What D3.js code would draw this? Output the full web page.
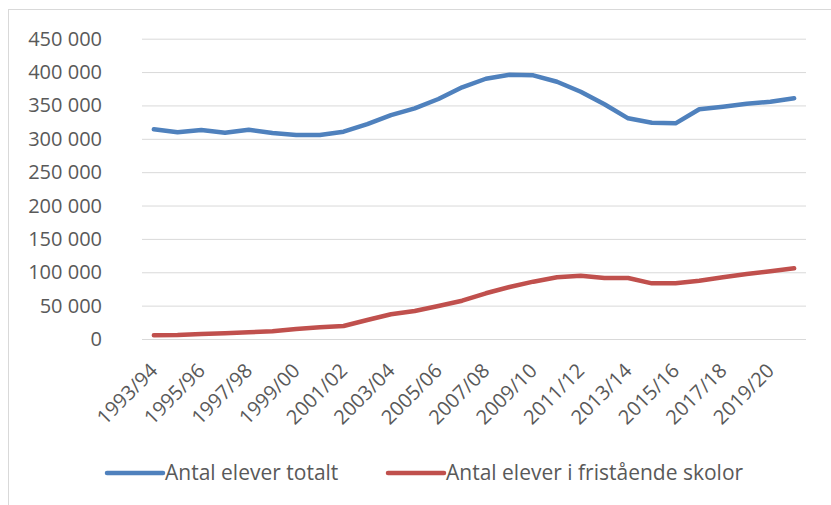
<!DOCTYPE html>
<meta charset="utf-8">
<html>
<style>
body { margin: 0; background: #fff; }
svg { display: block; }
.grid line { stroke: #d9d9d9; stroke-width: 1px; }
.grid path { display: none; }
text { font-family: "Open Sans", sans-serif; fill: #595959; }
</style>
<body>
<script src="https://cdnjs.cloudflare.com/ajax/libs/d3/7.8.5/d3.min.js"></script>
<script>
	var years = ["1993/94","1994/95","1995/96","1996/97","1997/98","1998/99","1999/00","2000/01",
		"2001/02","2002/03","2003/04","2004/05","2005/06","2006/07","2007/08","2008/09","2009/10",
		"2010/11","2011/12","2012/13","2013/14","2014/15","2015/16","2016/17","2017/18","2018/19",
		"2019/20","2020/21"];

	var totalt = [314200, 309700, 313100, 309100, 313600, 308600, 305600, 305600, 310600, 322100,
		335600, 345700, 359600, 377100, 390000, 396000, 395100, 385500, 370500, 351700,
		330700, 324100, 323200, 344200, 348100, 352600, 355600, 360700];

	var fristaende = [5500, 6000, 7500, 8500, 10000, 11500, 15000, 17500, 19500, 28500,
		37000, 42000, 49400, 57400, 68500, 77900, 85900, 92400, 94900, 91400,
		91400, 83400, 83400, 87400, 92400, 97400, 101400, 106000];

	var yTicks = [0, 50000, 100000, 150000, 200000, 250000, 300000, 350000, 400000, 450000];

	var seriesNames = ["Antal elever totalt", "Antal elever i fristående skolor"];
	var colors = ["#4f81bd", "#c0504d"];

	var width = 831;
	var height = 505;

	var svg = d3.select("body")
		.append("svg")
		.attr("width", width)
		.attr("height", height);

	// chart frame (only left and top edges are visible)
	svg.append("rect")
		.attr("x", 8.5)
		.attr("y", 9.5)
		.attr("width", 1000)
		.attr("height", 1000)
		.attr("fill", "none")
		.attr("stroke", "#d9d9d9");

	var x = d3.scaleBand()
		.domain(years)
		.range([142, 806]);

	var y = d3.scaleLinear()
		.domain([0, 450000])
		.range([339, 38.7]);

	var fmt = function(d) { return d3.format(",")(d).replace(/,/g, " "); };

	svg.append("g")
		.attr("class", "grid")
		.attr("transform", "translate(142,0)")
		.call(d3.axisLeft(y).tickValues(yTicks).tickSize(-664).tickFormat(""));

	svg.append("g")
		.selectAll("text")
		.data(yTicks)
		.enter()
		.append("text")
		.attr("x", 102)
		.attr("y", d => y(d))
		.attr("dy", "0.35em")
		.attr("text-anchor", "end")
		.style("font-size", "20px")
		.text(fmt);

	// category labels every second year, rotated
	svg.append("g")
		.selectAll("text")
		.data(years.filter((d, i) => i % 2 == 0))
		.enter()
		.append("text")
		.attr("transform", d => "translate(" + (x(d) + x.bandwidth() / 2 + 5) + ",372) rotate(-45)")
		.attr("text-anchor", "end")
		.style("font-size", "20px")
		.text(d => d);

	var line = d3.line()
		.x((d, i) => x(years[i]) + x.bandwidth() / 2)
		.y(d => y(d));

	[totalt, fristaende].forEach(function(series, k) {
		svg.append("path")
			.datum(series)
			.attr("fill", "none")
			.attr("stroke", colors[k])
			.attr("stroke-width", 4.5)
			.attr("stroke-linecap", "round")
			.attr("stroke-linejoin", "round")
			.attr("d", line);
	});

	// legend
	var legendX = [107, 388];
	var legend = svg.append("g")
		.selectAll("g")
		.data(seriesNames)
		.enter()
		.append("g")
		.attr("transform", (d, i) => "translate(" + legendX[i] + ",473)");

	legend.append("line")
		.attr("x1", 0)
		.attr("x2", 56)
		.attr("stroke", (d, i) => colors[i])
		.attr("stroke-width", 4.5)
		.attr("stroke-linecap", "round");

	legend.append("text")
		.attr("x", 58)
		.attr("dy", "0.35em")
		.style("font-size", "21px")
		.text(d => d);
</script>
</body>
</html>
